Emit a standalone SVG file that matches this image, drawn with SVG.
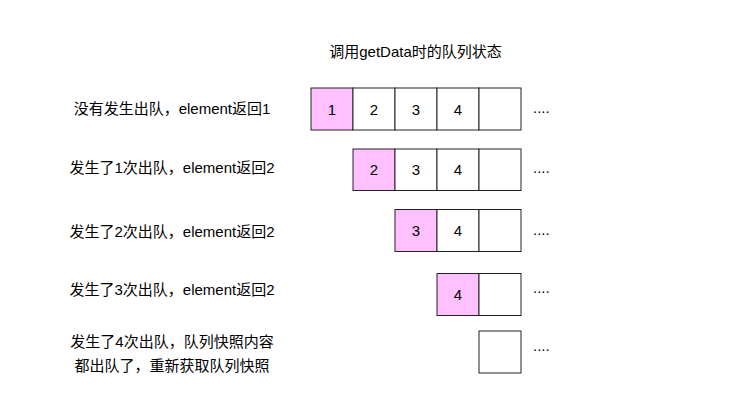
<svg xmlns="http://www.w3.org/2000/svg" width="734" height="415" viewBox="0 0 734 415">
<style>
text{font-family:"Liberation Sans","Noto Sans CJK SC",sans-serif;font-size:15px;fill:#000}
.lbl{text-anchor:middle}
.num{text-anchor:middle}
.b{fill:#fff;stroke:#222;stroke-width:1}
.p{fill:#ffc0ff;stroke:#222;stroke-width:1}
</style>
<rect width="734" height="415" fill="#fff"/>
<g id="title"><text class="lbl" x="415.5" y="57">调用getData时的队列状态</text></g>
<g id="row1">
<text class="lbl" x="172" y="113.5">没有发生出队，element返回1</text>
<rect class="p" x="311" y="88" width="42" height="42"/>
<rect class="b" x="353" y="88" width="42" height="42"/>
<rect class="b" x="395" y="88" width="42" height="42"/>
<rect class="b" x="437" y="88" width="42" height="42"/>
<rect class="b" x="479" y="88" width="42" height="42"/>
<text class="num" x="332" y="114.5">1</text>
<text class="num" x="374" y="114.5">2</text>
<text class="num" x="416" y="114.5">3</text>
<text class="num" x="458" y="114.5">4</text>
<text x="533" y="113">....</text>
</g>
<g id="row2">
<text class="lbl" x="172" y="172.5">发生了1次出队，element返回2</text>
<rect class="p" x="353" y="149" width="42" height="41.5"/>
<rect class="b" x="395" y="149" width="42" height="41.5"/>
<rect class="b" x="437" y="149" width="42" height="41.5"/>
<rect class="b" x="479" y="149" width="42" height="41.5"/>
<text class="num" x="374" y="175">2</text>
<text class="num" x="416" y="175">3</text>
<text class="num" x="458" y="175">4</text>
<text x="533" y="173">....</text>
</g>
<g id="row3">
<text class="lbl" x="172" y="237">发生了2次出队，element返回2</text>
<rect class="p" x="395" y="209.5" width="42" height="42"/>
<rect class="b" x="437" y="209.5" width="42" height="42"/>
<rect class="b" x="479" y="209.5" width="42" height="42"/>
<text class="num" x="416" y="236">3</text>
<text class="num" x="458" y="236">4</text>
<text x="533" y="234.5">....</text>
</g>
<g id="row4">
<text class="lbl" x="172" y="294.5">发生了3次出队，element返回2</text>
<rect class="p" x="437" y="273.5" width="42" height="42"/>
<rect class="b" x="479" y="273.5" width="42" height="42"/>
<text class="num" x="458" y="300">4</text>
<text x="533" y="293">....</text>
</g>
<g id="row5">
<text class="lbl" x="172" y="347">发生了4次出队，队列快照内容</text>
<text class="lbl" x="172" y="371">都出队了，重新获取队列快照</text>
<rect class="b" x="479" y="331" width="42" height="42"/>
<text x="533" y="351">....</text>
</g>
</svg>
